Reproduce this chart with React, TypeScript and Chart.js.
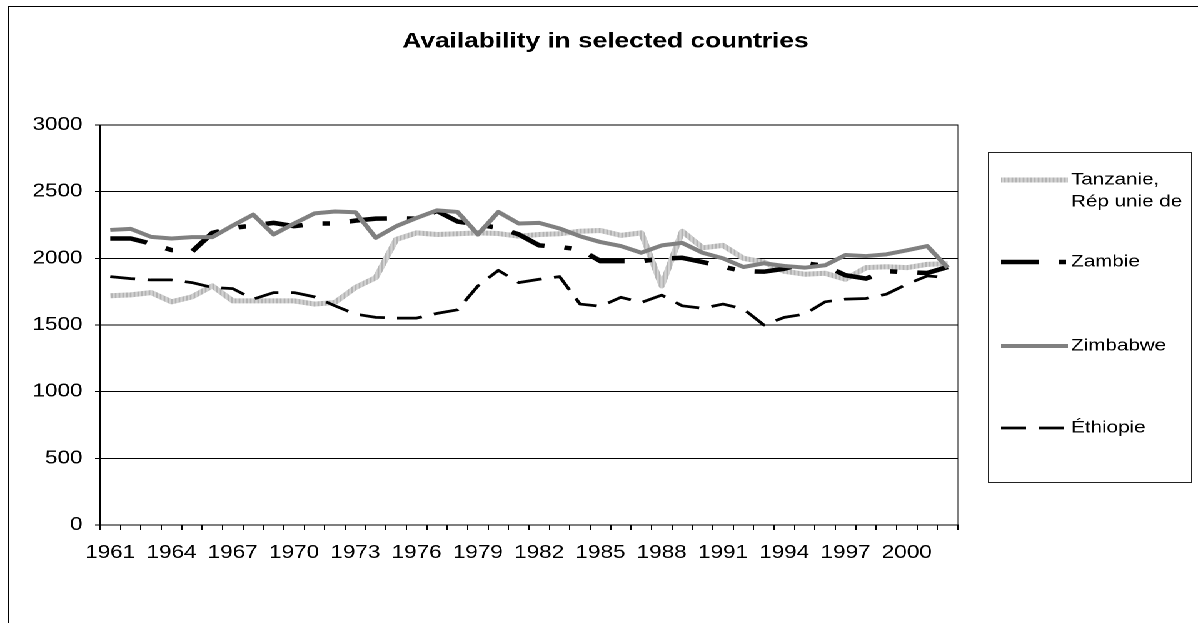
import React, { useEffect, useRef } from "react";
import { Chart, registerables } from "chart.js";

Chart.register(...registerables);

const years = [
  "1961", "1962", "1963", "1964", "1965", "1966", "1967", "1968", "1969", "1970",
  "1971", "1972", "1973", "1974", "1975", "1976", "1977", "1978", "1979", "1980",
  "1981", "1982", "1983", "1984", "1985", "1986", "1987", "1988", "1989", "1990",
  "1991", "1992", "1993", "1994", "1995", "1996", "1997", "1998", "1999", "2000",
  "2001", "2002",
];

const seriesNames = ["Tanzanie, Rép unie de", "Zambie", "Zimbabwe", "Éthiopie"];

const tanzania = [
  1719, 1726, 1743, 1674, 1711, 1793, 1681, 1681, 1681, 1681,
  1657, 1669, 1781, 1855, 2142, 2191, 2179, 2184, 2191, 2186,
  2166, 2179, 2184, 2203, 2209, 2172, 2191, 1793, 2203, 2079,
  2097, 2000, 1972, 1903, 1881, 1888, 1843, 1930, 1937, 1930,
  1955, 1960,
];

const zambie = [
  2149, 2149, 2110, 2062, 2050, 2191, 2228, 2246, 2266, 2241,
  2261, 2261, 2283, 2298, 2300, 2298, 2355, 2276, 2254, 2228,
  2180, 2097, 2085, 2067, 1979, 1979, 1979, 1997, 2004, 1972,
  1937, 1903, 1900, 1922, 1963, 1943, 1873, 1848, 1903, 1896,
  1890, 1935,
];

const zimbabwe = [
  2213, 2221, 2161, 2149, 2159, 2159, 2246, 2328, 2179, 2261,
  2337, 2351, 2346, 2154, 2241, 2303, 2360, 2348, 2179, 2348,
  2261, 2266, 2224, 2166, 2122, 2092, 2042, 2097, 2116, 2042,
  2000, 1935, 1963, 1943, 1930, 1948, 2025, 2017, 2030, 2060,
  2092, 1930,
];

const ethiopie = [
  1863, 1848, 1838, 1838, 1818, 1781, 1773, 1694, 1743, 1743,
  1711, 1644, 1582, 1557, 1552, 1552, 1587, 1614, 1793, 1910,
  1818, 1843, 1863, 1657, 1640, 1708, 1669, 1724, 1644, 1625,
  1657, 1620, 1500, 1557, 1582, 1674, 1694, 1699, 1731, 1806,
  1868, 1855,
];

const yTicks = [0, 500, 1000, 1500, 2000, 2500, 3000];
const titleText = "Availability in selected countries";

const W = 958;
const H = 623;
const SX = 1198 / W;
const FONT = '"Liberation Sans", Arial, sans-serif';

function makeHatch(): CanvasPattern | string {
  const c = document.createElement("canvas");
  c.width = 3;
  c.height = 2;
  const g = c.getContext("2d");
  if (!g) return "#c8c8c8";
  g.fillStyle = "#d2d2d2";
  g.fillRect(0, 0, 3, 2);
  g.fillStyle = "#a9a9a9";
  g.fillRect(2, 0, 1, 2);
  return g.createPattern(c, "repeat") || "#c8c8c8";
}

const decorPlugin = {
  id: "decor",
  beforeDraw(chart: any) {
    const ctx = chart.ctx;
    ctx.save();
    ctx.fillStyle = "#fff";
    ctx.fillRect(0, 0, chart.width, chart.height);
    ctx.strokeStyle = "#000";
    ctx.lineWidth = 1;
    ctx.beginPath();
    ctx.moveTo(6.5, H + 10);
    ctx.lineTo(6.5, 6.5);
    ctx.lineTo(W + 10, 6.5);
    ctx.stroke();
    const a = chart.chartArea;
    ctx.strokeStyle = "#808080";
    ctx.strokeRect(a.left, a.top, a.right - a.left, a.bottom - a.top);
    ctx.restore();
  },
  afterDraw(chart: any) {
    const ctx = chart.ctx;
    ctx.save();
    // title
    ctx.fillStyle = "#000";
    ctx.font = `bold 21px ${FONT}`;
    ctx.textAlign = "center";
    ctx.textBaseline = "alphabetic";
    ctx.fillText(titleText, 484.2, 47.5);

    // legend box
    const lx0 = 790.5, lx1 = 953, ly0 = 152.5, ly1 = 482.5;
    ctx.strokeStyle = "#222";
    ctx.lineWidth = 1;
    ctx.setLineDash([]);
    ctx.strokeRect(lx0, ly0, lx1 - lx0, ly1 - ly0);

    const rowY = [180, 262, 346, 428];
    const sx0 = 800.5, sx1 = 854, tx = 856.5, maxW = lx1 - tx - 3;
    ctx.font = `16.5px ${FONT}`;
    ctx.textAlign = "left";
    ctx.textBaseline = "middle";
    chart.data.datasets.forEach((ds: any, i: number) => {
      const y = rowY[i];
      ctx.save();
      ctx.strokeStyle = ds.borderColor;
      ctx.lineWidth = ds.borderWidth;
      ctx.lineCap = "butt";
      ctx.setLineDash(ds.borderDash || []);
      ctx.beginPath();
      ctx.moveTo(sx0, y);
      ctx.lineTo(sx1, y);
      ctx.stroke();
      ctx.restore();
      // wrap label
      const words = String(ds.label).split(" ");
      const lines: string[] = [];
      let cur = "";
      words.forEach((w) => {
        const test = cur ? cur + " " + w : w;
        if (ctx.measureText(test).width > maxW && cur) {
          lines.push(cur);
          cur = w;
        } else cur = test;
      });
      if (cur) lines.push(cur);
      ctx.fillStyle = "#000";
      lines.forEach((ln, k) => ctx.fillText(ln, tx, y + k * 22));
    });
    ctx.restore();
  },
};

export default function App() {
  const ref = useRef<HTMLCanvasElement | null>(null);

  useEffect(() => {
    if (!ref.current) return;
    const hatch = makeHatch();
    const chart = new Chart(ref.current, {
      type: "line",
      data: {
        labels: years,
        datasets: [
          {
            label: seriesNames[0],
            data: tanzania,
            borderColor: hatch as any,
            borderWidth: 5,
            order: 4,
          },
          {
            label: seriesNames[1],
            data: zambie,
            borderColor: "#000000",
            borderWidth: 4.5,
            borderDash: [30, 16, 6, 16],
            order: 3,
          },
          {
            label: seriesNames[2],
            data: zimbabwe,
            borderColor: "#808080",
            borderWidth: 4,
            order: 2,
          },
          {
            label: seriesNames[3],
            data: ethiopie,
            borderColor: "#000000",
            borderWidth: 2.75,
            borderDash: [20, 10],
            order: 1,
          },
        ],
      },
      options: {
        animation: false,
        responsive: true,
        maintainAspectRatio: false,
        devicePixelRatio: 2,
        layout: { padding: { left: 0, right: 192, top: 125, bottom: 0 } },
        elements: {
          point: { radius: 0, hoverRadius: 0 },
          line: { tension: 0, borderCapStyle: "butt", borderJoinStyle: "round", fill: false },
        },
        plugins: {
          legend: { display: false },
          title: { display: false },
          tooltip: { enabled: false },
        },
        scales: {
          x: {
            type: "category",
            offset: true,
            afterFit: (s: any) => {
              s.height = 98;
            },
            grid: {
              display: true,
              drawOnChartArea: false,
              drawTicks: true,
              tickLength: 5,
              color: "#000",
              offset: true,
            },
            border: { display: true, color: "#000", width: 1 },
            ticks: {
              autoSkip: false,
              maxRotation: 0,
              minRotation: 0,
              padding: 12,
              color: "#000",
              font: { family: FONT, size: 18 },
              callback: (_v: any, i: number) => (i % 3 === 0 ? years[i] : ""),
            },
          },
          y: {
            min: yTicks[0],
            max: yTicks[yTicks.length - 1],
            afterFit: (s: any) => {
              s.width = 80;
            },
            afterBuildTicks: (s: any) => {
              s.ticks = yTicks.map((v) => ({ value: v }));
            },
            grid: {
              color: "#000",
              lineWidth: 1,
              drawTicks: true,
              tickLength: 4,
            },
            border: { display: true, color: "#000", width: 1 },
            ticks: {
              padding: 10,
              color: "#000",
              font: { family: FONT, size: 18 },
              callback: (v: any) => String(v),
            },
          },
        },
      },
      plugins: [decorPlugin],
    });
    return () => chart.destroy();
  }, []);

  return (
    <div
      style={{
        position: "fixed",
        left: 0,
        top: 0,
        width: W,
        height: H,
        transform: `scaleX(${SX})`,
        transformOrigin: "0 0",
        background: "#fff",
      }}
    >
      <canvas ref={ref} />
    </div>
  );
}
